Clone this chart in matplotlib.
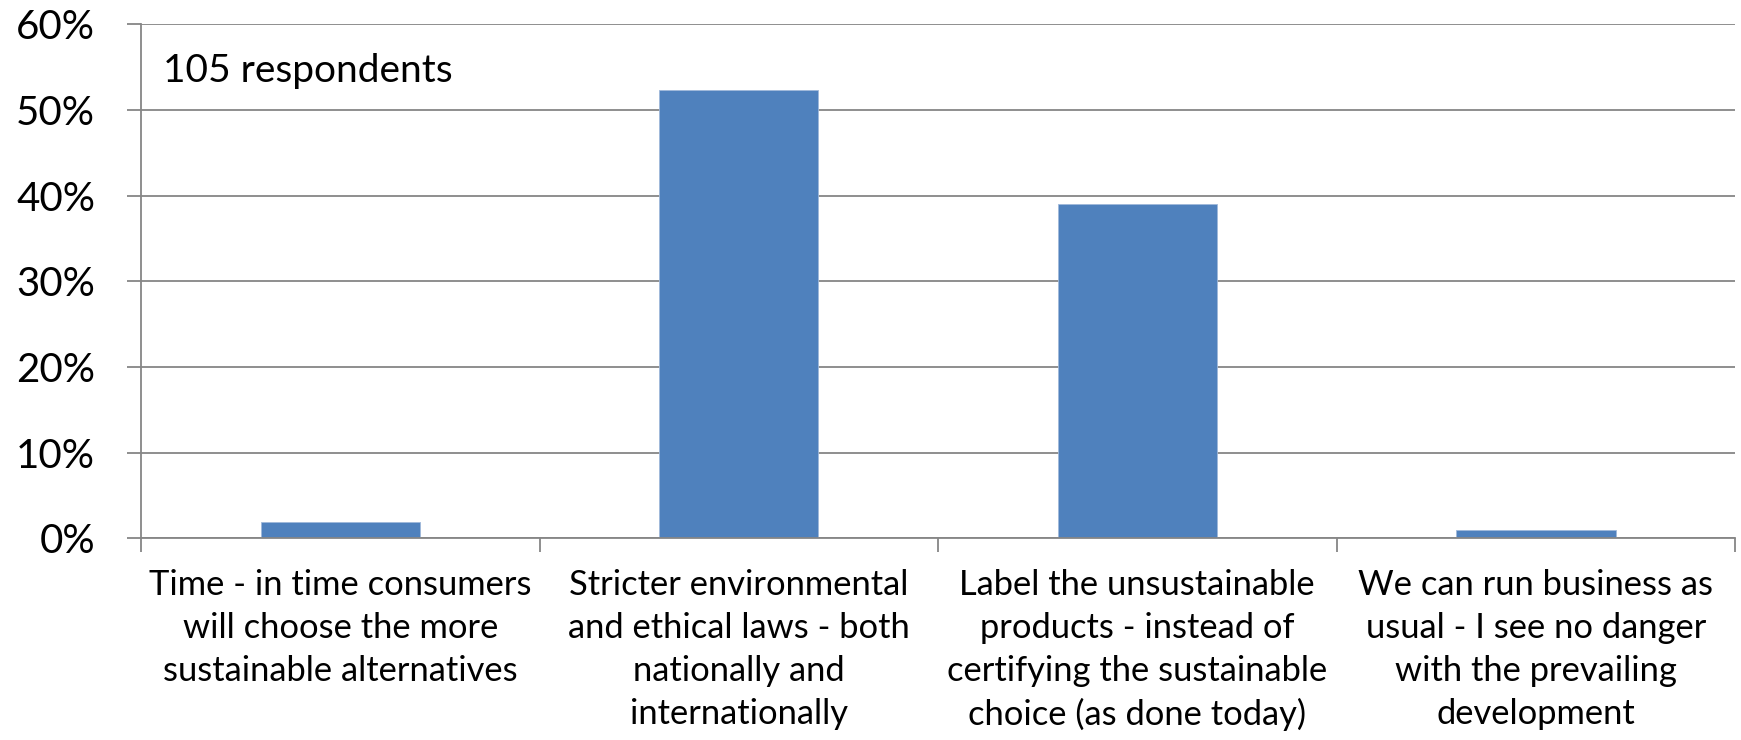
import matplotlib.pyplot as plt
from matplotlib.ticker import PercentFormatter

# answers and share of respondents
answers = [
    "Time - in time consumers\nwill choose the more\nsustainable alternatives",
    "Stricter environmental\nand ethical laws - both\nnationally and\ninternationally",
    "Label the unsustainable\nproducts - instead of\ncertifying the sustainable\nchoice (as done today)",
    "We can run business as\nusual - I see no danger\nwith the prevailing\ndevelopment",
]
shares = [1.9, 52.4, 39.0, 1.0]
y_ticks = [0, 10, 20, 30, 40, 50, 60]
note = "105 respondents"

plt.rcParams['font.family'] = ['Lato', 'DejaVu Sans']
grey = '#868686'

fig = plt.figure(figsize=(17.41, 7.4), dpi=100)
ax = fig.add_axes([0.081, 0.2723, 0.9156, 0.6947])

x = list(range(len(answers)))
ax.bar(x, shares, width=0.4, color='#4f81bd', edgecolor='#9fb8da', linewidth=0.6, zorder=3)

ax.set_xlim(-0.5, len(answers) - 0.5)
ax.set_ylim(0, 60)
ax.set_yticks(y_ticks)
ax.yaxis.set_major_formatter(PercentFormatter(decimals=0))
ax.grid(axis='y', color=grey, linewidth=1.3, zorder=0)

ax.set_xticks(x)
ax.set_xticklabels(answers, fontsize=24.8, linespacing=1.42)
ax.set_xticks([i - 0.5 for i in range(len(answers) + 1)], minor=True)
ax.tick_params(axis='x', which='major', length=0, pad=22)
ax.tick_params(axis='x', which='minor', length=10, width=1.3, color=grey, direction='out')
ax.tick_params(axis='y', length=10, width=1.3, color=grey, labelsize=29, pad=23)

for side in ['top', 'right']:
    ax.spines[side].set_visible(False)
for side in ['left', 'bottom']:
    ax.spines[side].set_color(grey)
    ax.spines[side].set_linewidth(1.3)
ax.spines['bottom'].set_zorder(4)

ax.text(0.014, 0.91, note, transform=ax.transAxes, fontsize=28, va='center', ha='left')

fig.savefig('out.png', dpi=100)
